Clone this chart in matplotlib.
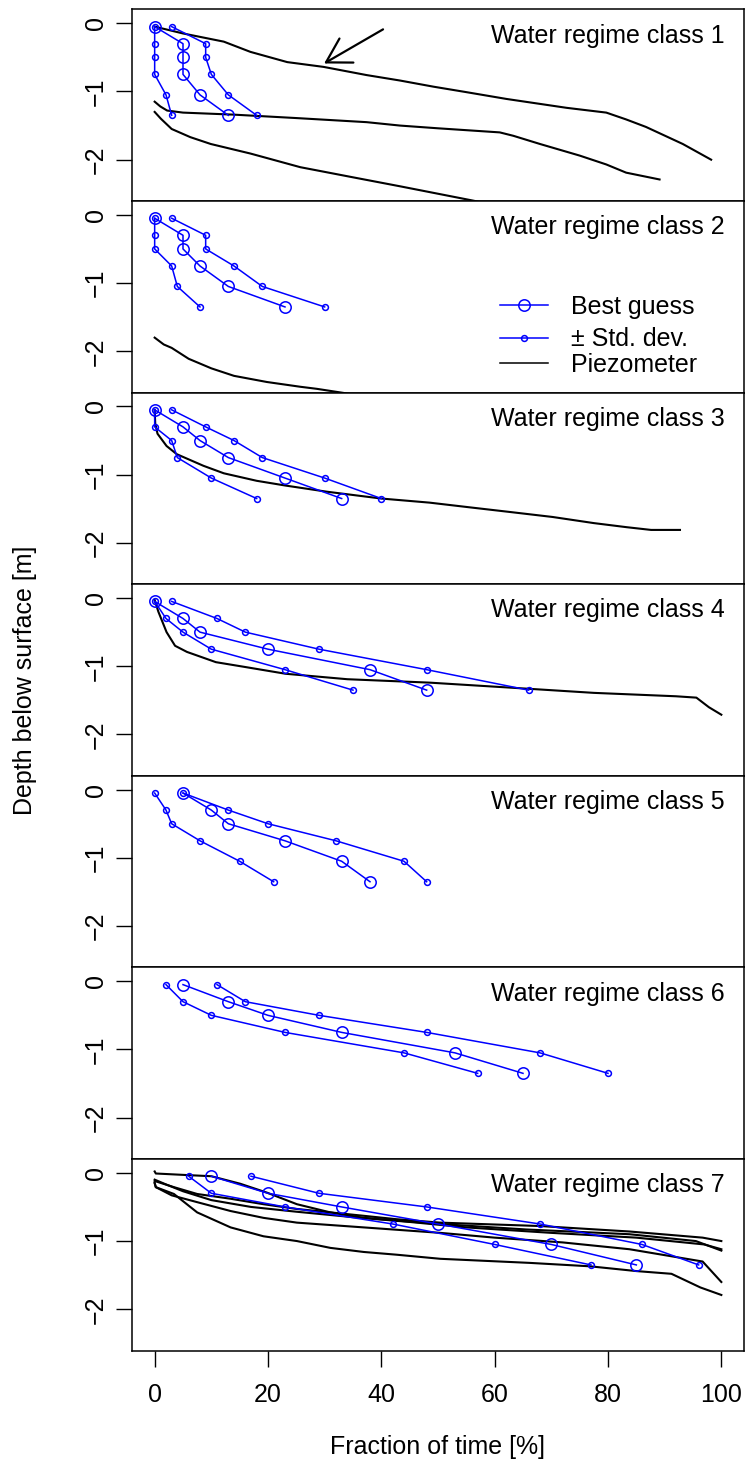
import matplotlib
matplotlib.use('Agg')
import matplotlib.pyplot as plt

plt.rcParams['font.family'] = ['Liberation Sans', 'DejaVu Sans']
plt.rcParams['font.size'] = 18

BLUE = '#0000FF'

# depth of the estimated points (m)
depths = [-0.05, -0.3, -0.5, -0.75, -1.05, -1.35]

# fraction of time [%] per water regime class: best guess, -std, +std
best = [
    [0, 5, 5, 5, 8, 13],
    [0, 5, 5, 8, 13, 23],
    [0, 5, 8, 13, 23, 33],
    [0, 5, 8, 20, 38, 48],
    [5, 10, 13, 23, 33, 38],
    [5, 13, 20, 33, 53, 65],
    [10, 20, 33, 50, 70, 85],
]
lower = [
    [0, 0, 0, 0, 2, 3],
    [0, 0, 0, 3, 4, 8],
    [0, 0, 3, 4, 10, 18],
    [0, 2, 5, 10, 23, 35],
    [0, 2, 3, 8, 15, 21],
    [2, 5, 10, 23, 44, 57],
    [6, 10, 23, 42, 60, 77],
]
upper = [
    [3, 9, 9, 10, 13, 18],
    [3, 9, 9, 14, 19, 30],
    [3, 9, 14, 19, 30, 40],
    [3, 11, 16, 29, 48, 66],
    [5, 13, 20, 32, 44, 48],
    [11, 16, 29, 48, 68, 80],
    [17, 29, 48, 68, 86, 96],
]

# piezometer duration curves (x = fraction of time, y = depth)
piezo_1a_x = [0, 5, 12.2, 16.9, 23.4, 29.8, 37.4, 43.3, 49.2, 55, 62.1, 72.7, 79.7, 83.2, 86.7, 93.2, 98.2]
piezo_1a_y = [-0.05, -0.15, -0.27, -0.42, -0.57, -0.64, -0.76, -0.84, -0.93, -1.01, -1.11, -1.24, -1.31, -1.41, -1.52, -1.77, -2.0]
piezo_1b_x = [0, 1, 2.2, 5, 14, 25, 37.4, 43.3, 50, 60.9, 63.3, 68, 75, 79.7, 83.2, 89.1]
piezo_1b_y = [-1.15, -1.22, -1.28, -1.31, -1.34, -1.39, -1.45, -1.50, -1.54, -1.60, -1.65, -1.77, -1.94, -2.07, -2.19, -2.29]
piezo_1c_x = [0, 1.1, 3, 6.3, 9.9, 16.9, 25.7, 35.1, 43.3, 56.2, 62]
piezo_1c_y = [-1.30, -1.40, -1.55, -1.67, -1.77, -1.91, -2.11, -2.26, -2.39, -2.60, -2.70]

piezo_2_x = [0, 1.6, 3, 6.0, 10, 14, 19.8, 25.7, 28.6, 33.3, 40]
piezo_2_y = [-1.80, -1.90, -1.95, -2.11, -2.25, -2.36, -2.45, -2.52, -2.55, -2.61, -2.70]

piezo_3_x = [0, 0.1, 0.5, 2.1, 3.9, 8.6, 12.2, 18.0, 23.1, 30.4, 40, 48.5, 55.7, 63, 70.2, 77.5, 83.3, 87.6, 92.7]
piezo_3_y = [-0.05, -0.25, -0.40, -0.58, -0.70, -0.87, -0.98, -1.09, -1.16, -1.25, -1.35, -1.41, -1.48, -1.55, -1.62, -1.71, -1.77, -1.81, -1.81]

piezo_4_x = [0, 0.65, 2.1, 3.6, 5.7, 10.8, 15.9, 23.1, 34, 48.5, 66, 77.5, 92, 95.6, 97.8, 100]
piezo_4_y = [-0.03, -0.2, -0.50, -0.70, -0.79, -0.94, -1.01, -1.11, -1.19, -1.24, -1.33, -1.39, -1.44, -1.46, -1.60, -1.71]

piezo_7a_x = [0, 0.2, 5, 10, 15.1, 19.8, 25.1, 31, 36.9, 42.7, 50.4, 65.5, 83.8, 95.5, 100]
piezo_7a_y = [0.02, -0.01, -0.03, -0.05, -0.16, -0.29, -0.46, -0.58, -0.66, -0.70, -0.75, -0.83, -0.90, -1.0, -1.14]
piezo_7b_x = [0, 3.4, 7.5, 13.4, 19.2, 25.1, 31, 36.9, 42.7, 50.4, 68, 83.8, 96.7, 100]
piezo_7b_y = [-0.12, -0.21, -0.31, -0.38, -0.46, -0.53, -0.58, -0.63, -0.68, -0.73, -0.78, -0.86, -0.95, -1.0]
piezo_7c_x = [0, 2, 5, 10, 17, 25, 35, 45, 55, 70, 85, 97, 100]
piezo_7c_y = [-0.10, -0.17, -0.27, -0.40, -0.50, -0.57, -0.65, -0.72, -0.80, -0.88, -0.95, -1.05, -1.12]
piezo_7d_x = [0, 0.2, 3, 7.5, 13.4, 19.2, 25.1, 36.9, 50.4, 60, 72, 83.8, 96.7, 100]
piezo_7d_y = [-0.15, -0.21, -0.33, -0.43, -0.56, -0.66, -0.73, -0.80, -0.88, -0.95, -1.02, -1.12, -1.30, -1.60]
piezo_7e_x = [0, 0.2, 3.4, 7.5, 13.4, 19.2, 25.1, 31, 36.9, 42.7, 50.4, 66.2, 76.8, 85, 91.2, 96.3, 100]
piezo_7e_y = [-0.15, -0.21, -0.31, -0.58, -0.80, -0.93, -1.0, -1.10, -1.16, -1.20, -1.26, -1.32, -1.37, -1.44, -1.48, -1.68, -1.79]

piezo = {
    0: [(piezo_1a_x, piezo_1a_y), (piezo_1b_x, piezo_1b_y), (piezo_1c_x, piezo_1c_y)],
    1: [(piezo_2_x, piezo_2_y)],
    2: [(piezo_3_x, piezo_3_y)],
    3: [(piezo_4_x, piezo_4_y)],
    6: [(piezo_7a_x, piezo_7a_y), (piezo_7b_x, piezo_7b_y), (piezo_7c_x, piezo_7c_y),
        (piezo_7d_x, piezo_7d_y), (piezo_7e_x, piezo_7e_y)],
}

# arrow in class 1 (tail -> tip)
arrow_tail = (40.3, -0.09)
arrow_tip = (29.9, -0.59)

W, H = 745, 1472
fig = plt.figure(figsize=(W / 100, H / 100), dpi=100)

left = 132 / W
width = (744 - 132) / W
top_px = 9.3
panel_px = 191.6

axes = []
for i in range(7):
    bottom = 1 - (top_px + panel_px * (i + 1)) / H
    ax = fig.add_axes([left, bottom, width, panel_px / H])
    axes.append(ax)

    for xs, ys in piezo.get(i, []):
        ax.plot(xs, ys, color='black', lw=1.5, zorder=2)

    for series, ms in ((lower[i], 4.2), (upper[i], 4.2), (best[i], 8.2)):
        ax.plot(series, depths, color=BLUE, lw=1.1, marker='o', ms=ms,
                mfc='none', mec=BLUE, mew=1.1, zorder=3)

    ax.text(0.969, 0.826, f'Water regime class {i + 1}', transform=ax.transAxes,
            ha='right', va='baseline', fontsize=18)

    ax.set_xlim(-4, 104)
    ax.set_ylim(-2.604, 0.204)
    ax.set_yticks([-2, -1, 0])
    ax.set_xticks([0, 20, 40, 60, 80, 100])
    ax.tick_params(axis='both', direction='out', length=11.5, width=1.0, labelsize=18)
    ax.tick_params(axis='y', pad=6)
    ax.tick_params(axis='x', pad=12)
    for lab in ax.get_yticklabels():
        lab.set_rotation(90)
        lab.set_va('center')
    for sp in ax.spines.values():
        sp.set_linewidth(1.1)
    if i < 6:
        ax.tick_params(axis='x', bottom=False, labelbottom=False)

# arrow pointing at the upper piezometer curve of class 1
axes[0].annotate('', xy=arrow_tip, xytext=arrow_tail,
                 arrowprops=dict(arrowstyle='->,head_length=0.85,head_width=0.5',
                                 mutation_scale=20, color='black', lw=1.6,
                                 shrinkA=0, shrinkB=0))

# legend in class 2 panel (drawn by hand, no frame)
ax2 = axes[1]
leg_x0, leg_x1, leg_mid, leg_text_x = 61.0, 69.4, 65.2, 73.5
ax2.plot([leg_x0, leg_x1], [-1.32, -1.32], color=BLUE, lw=1.1)
ax2.plot([leg_mid], [-1.32], marker='o', ms=8.2, mfc='none', mec=BLUE, mew=1.1)
ax2.text(leg_text_x, -1.456, 'Best guess', ha='left', va='baseline', fontsize=18)
ax2.plot([leg_x0, leg_x1], [-1.81, -1.81], color=BLUE, lw=1.1)
ax2.plot([leg_mid], [-1.81], marker='o', ms=4.2, mfc='none', mec=BLUE, mew=1.1)
ax2.text(leg_text_x, -1.92, '\u00b1 Std. dev.', ha='left', va='baseline', fontsize=18)
ax2.plot([leg_x0, leg_x1], [-2.17, -2.17], color='black', lw=1.1)
ax2.text(leg_text_x, -2.30, 'Piezometer', ha='left', va='baseline', fontsize=18)

fig.text(25 / W, 1 - 680 / H, 'Depth below surface [m]', rotation=90,
         ha='center', va='center', fontsize=18)
fig.text(438 / W, 1 - 1447 / H, 'Fraction of time [%]', ha='center', va='center', fontsize=18)

fig.savefig('out.png', dpi=100)
